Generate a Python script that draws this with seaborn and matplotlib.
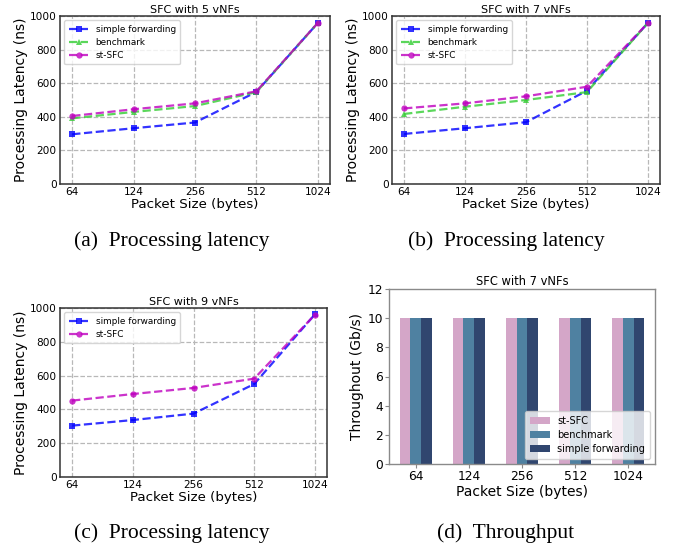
import matplotlib
matplotlib.use("Agg")
import matplotlib.pyplot as plt
import seaborn as sns
import pandas as pd
import numpy as np

# ---------------- data ----------------
packet_sizes = ["64", "124", "256", "512", "1024"]

sf_5 = [296, 332, 366, 548, 958]
bm_5 = [391, 429, 464, 547, 958]
st_5 = [405, 445, 480, 552, 958]

sf_7 = [298, 332, 368, 555, 958]
bm_7 = [417, 460, 500, 547, 958]
st_7 = [450, 480, 522, 579, 958]

sf_9 = [304, 337, 375, 550, 962]
st_9 = [452, 491, 527, 582, 960]

thr_methods = ["st-SFC", "benchmark", "simple forwarding"]
thr_st = [10, 10, 10, 10, 10]
thr_bm = [10, 10, 10, 10, 10]
thr_sf = [10, 10, 10, 10, 10]

# ---------------- styling ----------------
plt.rcParams["font.family"] = ["DejaVu Sans"]

C_SF = "blue"
C_BM = "limegreen"
C_ST = "m"
BAR_COLORS = ["#d4a6c8", "#4f81a1", "#30466f"]

fig = plt.figure(figsize=(6.82, 5.48), dpi=100)
W, H = 682.0, 548.0


def add_axes_px(left, right, top, bottom):
    return fig.add_axes([left / W, 1 - bottom / H, (right - left) / W, (bottom - top) / H])


def line_panel(ax, series, title):
    pos = np.arange(len(packet_sizes))
    for name, vals, color, marker in series:
        sns.lineplot(x=pos, y=vals, ax=ax, color=color, marker=marker,
                     linestyle="--", linewidth=1.6, markersize=4.5,
                     markeredgewidth=0, alpha=0.8, label=name)
    ax.set_xlim(-0.2, 4.2)
    ax.set_ylim(0, 1000)
    ax.set_yticks([0, 200, 400, 600, 800, 1000])
    ax.set_xticks(pos)
    ax.set_xticklabels(packet_sizes)
    ax.tick_params(axis="both", length=0, labelsize=7.6, pad=2.5)
    ax.grid(True, linestyle="--", color="#b8b8b8", linewidth=0.9)
    ax.set_axisbelow(True)
    for s in ax.spines.values():
        s.set_color("#333333")
        s.set_linewidth(1.1)
    ax.set_xlabel("Packet Size (bytes)", fontsize=9.6, labelpad=0.5)
    ax.set_ylabel("Processing Latency (ns)", fontsize=10, labelpad=1)
    ax.set_title(title, fontsize=8, pad=2)
    ax.legend(loc="upper left", fontsize=6.4, framealpha=0.8,
              handlelength=2.2, borderpad=0.5, labelspacing=0.45)


# (a)
ax_a = add_axes_px(60, 330, 16, 184)
line_panel(ax_a, [("simple forwarding", sf_5, C_SF, "s"),
                  ("benchmark", bm_5, C_BM, "^"),
                  ("st-SFC", st_5, C_ST, "o")], "SFC with 5 vNFs")

# (b)
ax_b = add_axes_px(392, 660, 16, 184)
line_panel(ax_b, [("simple forwarding", sf_7, C_SF, "s"),
                  ("benchmark", bm_7, C_BM, "^"),
                  ("st-SFC", st_7, C_ST, "o")], "SFC with 7 vNFs")

# (c)
ax_c = add_axes_px(60, 327, 308, 477)
line_panel(ax_c, [("simple forwarding", sf_9, C_SF, "s"),
                  ("st-SFC", st_9, C_ST, "o")], "SFC with 9 vNFs")

# (d)
ax_d = add_axes_px(389, 655, 289, 464)
df = pd.DataFrame({
    "size": packet_sizes * 3,
    "method": [thr_methods[0]] * 5 + [thr_methods[1]] * 5 + [thr_methods[2]] * 5,
    "thr": thr_st + thr_bm + thr_sf,
})
sns.barplot(data=df, x="size", y="thr", hue="method", order=packet_sizes,
            hue_order=thr_methods, palette=BAR_COLORS, saturation=1,
            width=0.6, ax=ax_d, errorbar=None)
ax_d.set_ylim(0, 12)
ax_d.set_yticks([0, 2, 4, 6, 8, 10, 12])
ax_d.tick_params(axis="both", length=3, width=0.8, color="#888888", labelsize=8.8, pad=1.5)
for s in ax_d.spines.values():
    s.set_color("#8a8a8a")
    s.set_linewidth(1.0)
ax_d.set_xlabel("Packet Size (bytes)", fontsize=10, labelpad=1)
ax_d.set_ylabel("Throughout (Gb/s)", fontsize=10, labelpad=2)
ax_d.set_title("SFC with 7 vNFs", fontsize=8.3, pad=3)
sns.move_legend(ax_d, "lower right", title=None, fontsize=7, framealpha=0.8,
                borderpad=0.5, labelspacing=0.45, bbox_to_anchor=(1.0, 0.0))

# captions
cap_kw = dict(ha="center", va="center", family=["Liberation Serif", "DejaVu Serif"], fontsize=15.5)
fig.text(172 / W, 1 - 241 / H, "(a)  Processing latency", **cap_kw)
fig.text(506 / W, 1 - 241 / H, "(b)  Processing latency", **cap_kw)
fig.text(172 / W, 1 - 533 / H, "(c)  Processing latency", **cap_kw)
fig.text(506 / W, 1 - 533 / H, "(d)  Throughput", **cap_kw)

fig.savefig("out.png", dpi=100)
